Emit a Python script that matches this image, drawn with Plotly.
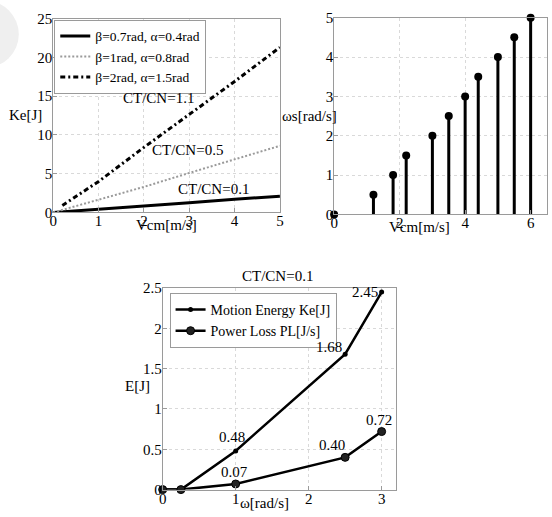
import plotly.graph_objects as go

# ---------------- data ----------------
# Top-left: Ke vs Vcm for three parameter sets
vcm_a = [0, 1, 2, 3, 4, 5]
ke_01 = [0, 0.4, 0.8, 1.25, 1.7, 2.1]
ke_05 = [0, 1.6, 3.3, 5.1, 6.8, 8.6]
vcm_c = [0.2, 1, 2, 3, 4, 5]
ke_11 = [0.9, 4.0, 8.4, 12.6, 16.9, 21.3]
series_names = ["β=0.7rad, α=0.4rad", "β=1rad, α=0.8rad", "β=2rad, α=1.5rad"]
ratio_labels = ["CT/CN=0.1", "CT/CN=0.5", "CT/CN=1.1"]

# Top-right: stem plot ws vs Vcm
vcm_stem = [0, 1.2, 1.8, 2.2, 3.0, 3.5, 4.0, 4.4, 5.0, 5.5, 6.0]
ws_stem = [0, 0.5, 1.0, 1.5, 2.0, 2.5, 3.0, 3.5, 4.0, 4.5, 5.0]

# Bottom: energy vs omega
omega = [0, 0.25, 1, 2.5, 3]
ke_energy = [0, 0, 0.48, 1.68, 2.45]
pl_loss = [0, 0, 0.07, 0.40, 0.72]
bottom_names = ["Motion Energy Ke[J]", "Power Loss PL[J/s]"]
bottom_title = "CT/CN=0.1"

FONT = "Liberation Serif"
W, H = 552, 517

fig = go.Figure()

# ---- top-left lines ----
fig.add_trace(go.Scatter(x=vcm_a, y=ke_01, mode="lines", name=series_names[0],
                         line=dict(color="black", width=3), xaxis="x", yaxis="y", legend="legend"))
fig.add_trace(go.Scatter(x=vcm_a, y=ke_05, mode="lines", name=series_names[1],
                         line=dict(color="#9a9a9a", width=2, dash="2px,2px"), xaxis="x", yaxis="y", legend="legend"))
fig.add_trace(go.Scatter(x=vcm_c, y=ke_11, mode="lines", name=series_names[2],
                         line=dict(color="black", width=3, dash="5px,3px,2px,3px"), xaxis="x", yaxis="y", legend="legend"))

# ---- top-right stems ----
sx, sy = [], []
for xv, yv in zip(vcm_stem, ws_stem):
    sx += [xv, xv, None]
    sy += [0, yv, None]
fig.add_trace(go.Scatter(x=sx, y=sy, mode="lines", line=dict(color="black", width=3),
                         showlegend=False, xaxis="x2", yaxis="y2"))
fig.add_trace(go.Scatter(x=vcm_stem, y=ws_stem, mode="markers",
                         marker=dict(color="black", size=8), showlegend=False,
                         xaxis="x2", yaxis="y2", cliponaxis=False))

# ---- bottom ----
fig.add_trace(go.Scatter(x=omega, y=ke_energy, mode="lines+markers", name=bottom_names[0],
                         line=dict(color="black", width=2.5), marker=dict(color="black", size=5),
                         xaxis="x3", yaxis="y3", legend="legend2", cliponaxis=False))
fig.add_trace(go.Scatter(x=omega, y=pl_loss, mode="lines+markers", name=bottom_names[1],
                         line=dict(color="black", width=2.5),
                         marker=dict(color="#222", size=8, line=dict(color="black", width=1)),
                         xaxis="x3", yaxis="y3", legend="legend2", cliponaxis=False))

axis_common = dict(showline=True, mirror=True, linecolor="#9a9a9a", linewidth=1,
                   ticks="inside", ticklen=4, tickcolor="#9a9a9a",
                   showgrid=True, gridcolor="#d9d9d9", griddash="dot", gridwidth=1,
                   zeroline=False, tickfont=dict(family=FONT, size=15, color="black"))
xcommon = dict(axis_common, ticklabelstandoff=-5)
ycommon = dict(axis_common, ticklabelstandoff=-3)

def px_x(p):
    return p / W

def px_y(p):
    return 1 - p / H

fig.update_layout(
    width=W, height=H, margin=dict(l=0, r=0, t=0, b=0),
    paper_bgcolor="white", plot_bgcolor="white",
    font=dict(family=FONT, color="black"),
    xaxis=dict(domain=[px_x(50), px_x(280)], range=[0, 5], tickvals=[0, 1, 2, 3, 4, 5], anchor="y", **xcommon),
    yaxis=dict(domain=[px_y(211), px_y(11)], range=[0, 25], tickvals=[0, 5, 10, 15, 20, 25], anchor="x", **ycommon),
    xaxis2=dict(domain=[px_x(335), px_x(551)], range=[0, 6.5], tickvals=[0, 2, 4, 6], anchor="y2", **xcommon),
    yaxis2=dict(domain=[px_y(213), px_y(10)], range=[0, 5], tickvals=[0, 1, 2, 3, 4, 5], anchor="x2", **ycommon),
    xaxis3=dict(domain=[px_x(161), px_x(398)], range=[0, 3.2], tickvals=[0, 1, 2, 3], anchor="y3", **xcommon),
    yaxis3=dict(domain=[px_y(497), px_y(289)], range=[0, 2.5], tickvals=[0, 0.5, 1, 1.5, 2, 2.5],
                ticktext=["0", "0.5", "1", "1.5", "2", "2.5"], anchor="x3", **ycommon),
    legend=dict(x=px_x(51), y=px_y(12), xanchor="left", yanchor="top",
                bgcolor="white", bordercolor="#9a9a9a", borderwidth=1,
                font=dict(family=FONT, size=13.5), itemwidth=30, tracegroupgap=0),
    legend2=dict(x=px_x(168), y=px_y(294), xanchor="left", yanchor="top",
                 bgcolor="white", bordercolor="#9a9a9a", borderwidth=1,
                 font=dict(family=FONT, size=14), itemwidth=30),
    showlegend=True,
    shapes=[dict(type="circle", xref="paper", yref="paper", layer="below",
                 x0=px_x(-55), x1=px_x(15), y0=px_y(62), y1=px_y(-8),
                 fillcolor="#efefef", line=dict(width=0))],
)

ann = []
def text(x, y, s, size=15, xref="paper", yref="paper", **kw):
    ann.append(dict(x=x, y=y, xref=xref, yref=yref, text=s, showarrow=False,
                    xanchor="center", yanchor="middle",
                    font=dict(family=FONT, size=size, color="black"), **kw))

# axis titles
text(px_x(22), px_y(110), "Ke[J]")
text(px_x(165), px_y(224), "Vcm[m/s]")
text(px_x(310), px_y(111), "ωs[rad/s]")
text(px_x(422), px_y(226), "Vcm[m/s]")
text(px_x(135), px_y(390), "E[J]")
text(px_x(264), px_y(511), "ω[rad/s]")
text(px_x(278), px_y(277), bottom_title)

# ratio labels in top-left
ratio_pos = [(3.54, 3.0), (2.96, 8.1), (2.33, 14.75)]
for lab, (xv, yv) in zip(ratio_labels, ratio_pos):
    text(xv, yv, lab, xref="x", yref="y")

# value labels on bottom chart
ke_off = [None, None, (-4, -14), (-16, -7), (-17, 0)]
pl_off = [None, None, (-1, -12), (-13, -12), (-3, -12)]
for xs, ys, offs in ((omega, ke_energy, ke_off), (omega, pl_loss, pl_off)):
    for xv, yv, off in zip(xs, ys, offs):
        if off is None:
            continue
        text(xv, yv, "%.2f" % yv, xref="x3", yref="y3", xshift=off[0], yshift=-off[1])

fig.update_layout(annotations=ann)
fig.write_html("out.html", config={"displayModeBar": False},
               post_script="document.body.style.margin='0px';document.body.style.overflow='hidden';")
